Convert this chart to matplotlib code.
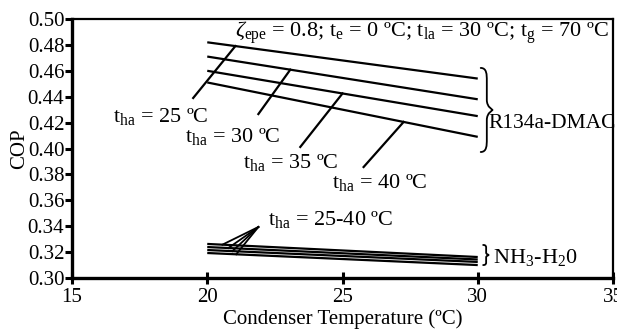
import numpy as np
import matplotlib
matplotlib.use("Agg")
import matplotlib.pyplot as plt
from matplotlib.path import Path
from matplotlib.patches import PathPatch

plt.rcParams['font.family'] = ['Liberation Serif', 'DejaVu Serif']
plt.rcParams['mathtext.fontset'] = 'custom'
plt.rcParams['mathtext.rm'] = 'Liberation Serif'
plt.rcParams['mathtext.it'] = 'Liberation Serif:italic'

# ---- data ----
cond_temp = [20, 30]
r134a_tha = [25, 30, 35, 40]
r134a_cop = [
    [0.482, 0.454],   # t_ha = 25
    [0.471, 0.438],   # t_ha = 30
    [0.460, 0.425],   # t_ha = 35
    [0.451, 0.409],   # t_ha = 40
]
nh3_cop = [
    [0.3263, 0.3162],
    [0.3239, 0.3143],
    [0.3216, 0.3124],
    [0.3193, 0.3100],
]
# pointer annotations: (tail x, tail y), contact x on the line
r134a_pointer_tail = [(19.48, 0.439), (21.89, 0.4266), (23.44, 0.4012), (25.78, 0.3857)]
r134a_pointer_contact_x = [21.04, 23.07, 25.0, 27.26]
r134a_label_pos = [(16.52, 0.4205), (19.19, 0.405), (21.33, 0.385), (24.63, 0.3695)]
nh3_fan_apex = (21.89, 0.3394)
nh3_fan_contact_x = [20.56, 20.78, 20.93, 21.07]

x_ticks = [15, 20, 25, 30, 35]
y_ticks = [0.30, 0.32, 0.34, 0.36, 0.38, 0.40, 0.42, 0.44, 0.46, 0.48, 0.50]

fig = plt.figure(figsize=(6.17, 3.29), dpi=100)
ax = fig.add_axes([72/617, 1-278/329, (613-72)/617, (278-19)/329])

FS = 15
FSA = 16
lw = 1.6
for cop in r134a_cop:
    ax.plot(cond_temp, cop, color='black', lw=lw, solid_capstyle='butt')
for cop in nh3_cop:
    ax.plot(cond_temp, cop, color='black', lw=lw, solid_capstyle='butt')

# pointers for R134a lines
for (tx, ty), cx, cop, tha, (lx, ly) in zip(r134a_pointer_tail, r134a_pointer_contact_x,
                                             r134a_cop, r134a_tha, r134a_label_pos):
    cy = np.interp(cx, cond_temp, cop)
    ax.plot([tx, cx], [ty, cy], color='black', lw=lw)
    ax.text(lx, ly, r'$\mathrm{t_{ha}}$' + f' = {tha} ºC', fontsize=FSA, va='baseline', ha='left')

# fan for NH3
for cx, cop in zip(nh3_fan_contact_x, nh3_cop):
    cy = np.interp(cx, cond_temp, cop)
    ax.plot([nh3_fan_apex[0], cx], [nh3_fan_apex[1], cy], color='black', lw=1.3)
ax.text(22.26, 0.341, r'$\mathrm{t_{ha}}$' + ' = 25-40 ºC', fontsize=FSA, va='baseline', ha='left')

ax.text(21.04, 0.4861,
        r'$\zeta_{\mathrm{epe}}$ = 0.8; $\mathrm{t_e}$ = 0 ºC; $\mathrm{t_{la}}$ = 30 ºC; $\mathrm{t_g}$ = 70 ºC',
        fontsize=FSA, va='baseline', ha='left')


def brace(ax, x0, y0, y1, w):
    h = y1 - y0
    xm = x0 + w * 0.5
    ym = (y0 + y1) / 2
    verts = [
        (x0, y1), (xm, y1), (xm, y1 - 0.08 * h), (xm, y1 - 0.15 * h),
        (xm, ym + 0.12 * h),
        (xm, ym + 0.03 * h), (x0 + w, ym), (x0 + w, ym),
        (x0 + w, ym), (xm, ym - 0.03 * h), (xm, ym - 0.12 * h),
        (xm, y0 + 0.15 * h),
        (xm, y0 + 0.08 * h), (xm, y0), (x0, y0),
    ]
    codes = [Path.MOVETO, Path.CURVE4, Path.CURVE4, Path.CURVE4,
             Path.LINETO,
             Path.CURVE4, Path.CURVE4, Path.CURVE4,
             Path.CURVE4, Path.CURVE4, Path.CURVE4,
             Path.LINETO,
             Path.CURVE4, Path.CURVE4, Path.CURVE4]
    ax.add_patch(PathPatch(Path(verts, codes), fill=False, lw=1.3, color='black', capstyle='round'))


brace(ax, 30.11, 0.3973, 0.4622, 0.45)
ax.text(30.41, 0.4158, 'R134a-DMAC', fontsize=15.5, va='baseline', ha='left')
brace(ax, 30.2, 0.3100, 0.3255, 0.22)
ax.text(30.56, 0.3116, r'NH$_3$-H$_2$0', fontsize=FSA, va='baseline', ha='left')

ax.set_xlim(15, 35)
ax.set_ylim(0.30, 0.50)
ax.set_xticks(x_ticks)
ax.set_yticks(y_ticks)
ax.set_xticklabels([str(v) for v in x_ticks])
ax.set_yticklabels([f'{v:.2f}' for v in y_ticks])
ax.tick_params(axis='y', direction='out', length=5, width=2.2, labelsize=FS, pad=0.5)
ax.tick_params(axis='x', direction='inout', length=8, width=2.2, labelsize=FS, pad=3)
for s in ['left', 'bottom']:
    ax.spines[s].set_linewidth(2.4)
for s in ['top', 'right']:
    ax.spines[s].set_linewidth(1.6)

ax.set_xlabel('Condenser Temperature (ºC)', fontsize=FS, labelpad=2)
ax.set_ylabel('COP', fontsize=FS, labelpad=-1)

fig.savefig('out.png', dpi=100)
